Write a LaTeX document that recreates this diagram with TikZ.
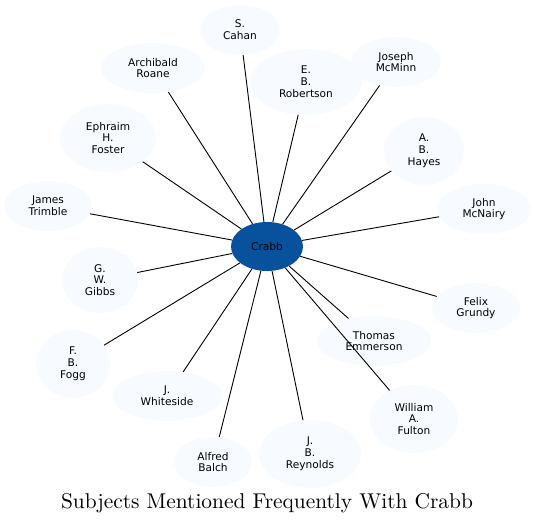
\documentclass[tikz,border=0pt]{standalone}
\usepackage{fontspec}
\newfontfamily\dvs{DejaVu Sans}
\newfontfamily\lmten[Extension=.otf]{lmroman10-regular}
\usetikzlibrary{shapes.geometric}
\definecolor{leaf}{HTML}{F7FBFF}
\definecolor{hub}{HTML}{08519C}
\tikzset{
  nd/.style={ellipse, fill=leaf, draw=none, inner sep=0pt, align=center,
    font=\dvs\fontsize{10.6}{11.8}\selectfont, text=black},
  hubnode/.style={nd, fill=hub},
  edge/.style={draw=black, line width=0.9pt}
}
\begin{document}
\begin{tikzpicture}[x=1pt,y=-1pt]
\useasboundingbox (0,0) rectangle (536,524);
\node[hubnode, minimum width=72pt, minimum height=49pt] (crabb) at (267,246.5) {Crabb};
\node[nd, minimum width=80pt, minimum height=50pt] (cahan) at (240,30) {S.\\Cahan};
\node[nd, minimum width=104pt, minimum height=50pt] (roane) at (153,68) {Archibald\\Roane};
\node[nd, minimum width=112pt, minimum height=66pt] (robertson) at (306,82) {E.\\B.\\Robertson};
\node[nd, minimum width=90pt, minimum height=50pt] (mcminn) at (396,62) {Joseph\\McMinn};
\node[nd, minimum width=96pt, minimum height=68pt] (foster) at (108,138) {Ephraim\\H.\\Foster};
\node[nd, minimum width=80pt, minimum height=68pt] (hayes) at (424,151) {A.\\B.\\Hayes};
\node[nd, minimum width=88pt, minimum height=50pt] (trimble) at (48,206) {James\\Trimble};
\node[nd, minimum width=94pt, minimum height=50pt] (mcnairy) at (484,209) {John\\McNairy};
\node[nd, minimum width=76pt, minimum height=66pt] (gibbs) at (100,280) {G.\\W.\\Gibbs};
\node[nd, minimum width=88pt, minimum height=50pt] (grundy) at (476,308) {Felix\\Grundy};
\node[nd, minimum width=74pt, minimum height=68pt] (fogg) at (73,364) {F.\\B.\\Fogg};
\node[nd, minimum width=114pt, minimum height=50pt] (emmerson) at (374,341) {Thomas\\Emmerson};
\node[nd, minimum width=110pt, minimum height=50pt] (whiteside) at (167,396) {J.\\Whiteside};
\node[nd, minimum width=88pt, minimum height=68pt] (fulton) at (414,419) {William\\A.\\Fulton};
\node[nd, minimum width=78pt, minimum height=50pt] (balch) at (213,462) {Alfred\\Balch};
\node[nd, minimum width=102pt, minimum height=68pt] (reynolds) at (310,454) {J.\\B.\\Reynolds};
\foreach \t in {cahan,roane,robertson,mcminn,foster,hayes,trimble,mcnairy,gibbs,grundy,fogg,emmerson,whiteside,fulton,balch,reynolds}
  \draw[edge] (crabb) -- (\t);
\node[font=\lmten\fontsize{21.4}{24}\selectfont, inner sep=0pt, anchor=base] (title) at (267,508) {Subjects Mentioned Frequently With Crabb};
\end{tikzpicture}
\end{document}
